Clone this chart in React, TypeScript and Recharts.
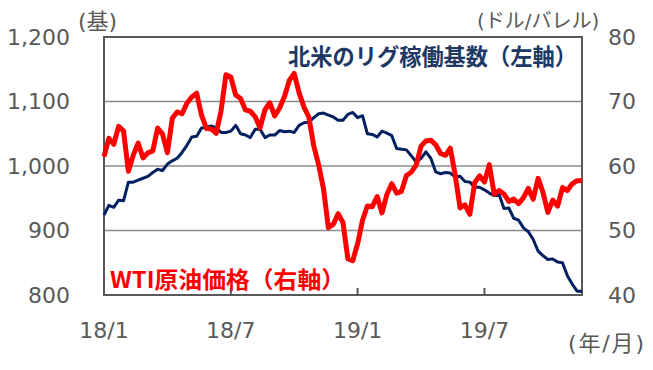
import { LineChart, Line, XAxis, YAxis, CartesianGrid, ReferenceArea } from "recharts";

// weekly, 2018/1 first week -> 2019/11 (Friday values)
const rigCount = [
  924, 939, 936, 947, 946, 975, 975, 978, 981, 984, 990, 995, 993, 1003, 1008, 1012, 1021, 1032,
  1045, 1046, 1059, 1060, 1062, 1059, 1052, 1052, 1054, 1063, 1050, 1048, 1044, 1057, 1057, 1044,
  1048, 1048, 1055, 1053, 1054, 1052, 1063, 1067, 1068, 1075, 1081, 1082, 1079, 1076, 1071, 1071,
  1080, 1083,
  1075, 1078, 1050, 1049, 1045, 1054, 1051, 1047, 1027, 1026, 1025, 1016, 1006, 1012, 1022, 1012,
  991, 988, 990, 989, 983, 984, 976, 975, 967, 967, 963, 958, 954, 956, 934, 935, 919, 916, 904,
  898, 886, 868, 861, 855, 856, 851, 850, 830, 817, 806, 806,
];

const wtiPrice = [
  61.44, 64.3, 63.37, 66.14, 65.45, 59.2, 61.68, 63.55, 61.25, 62.04, 62.34, 65.88, 64.94, 62.06,
  67.39, 68.38, 68.1, 69.72, 70.7, 71.28, 67.88, 65.81, 65.74, 65.06, 68.58, 74.15, 73.8, 71.01,
  70.46, 68.69, 68.49, 67.63, 65.91, 68.72, 69.8, 67.75, 68.99, 70.78, 73.25, 74.34, 71.34, 69.12,
  67.59, 63.14, 60.19, 56.46, 50.42, 50.93, 52.61, 51.2, 45.59, 45.33,
  47.96, 51.59, 53.8, 53.69, 55.26, 52.72, 55.59, 57.26, 55.8, 56.07, 58.52, 59.04, 60.14, 63.08,
  63.89, 64.0, 63.3, 61.94, 61.66, 62.76, 58.63, 53.5, 53.99, 52.51, 57.43, 58.47, 57.51, 60.21,
  55.63, 56.2, 55.66, 54.5, 54.87, 54.17, 55.1, 56.52, 54.85, 58.09, 55.91, 52.81, 54.7, 53.78,
  56.66, 56.2, 57.24, 57.72, 57.77,
];

const xTickWeeks = [0, 26, 52, 78];
const xTickLabels = ["18/1", "18/7", "19/1", "19/7"];
const leftTicks = [800, 900, 1000, 1100, 1200];
const rightTicks = [40, 50, 60, 70, 80];

const data = rigCount.map((rig, i) => ({ week: i, rig, wti: wtiPrice[i] }));

const GRAY = "#595959";
const NAVY = "#002060";
const NAVY_TEXT = "#203864";
const RED = "#ff0000";
const FONT = "'DejaVu Sans', 'Noto Sans CJK JP', sans-serif";
const JP = "'Noto Sans CJK JP', sans-serif";

const XTick = (props: any) => {
  const { x, y, payload } = props;
  const label = xTickLabels[xTickWeeks.indexOf(payload.value)];
  return (
    <g>
      <line x1={x} x2={x} y1={y} y2={y - 7} stroke={GRAY} strokeWidth={2} />
      <text x={x} y={y + 35} textAnchor="middle" dominantBaseline="central" fill={GRAY} fontSize={22} fontFamily={FONT}>
        {label}
      </text>
    </g>
  );
};

export default function App() {
  return (
    <div style={{ position: "absolute", left: 0, top: 0, width: 653, height: 370, background: "#fff" }}>
      <LineChart width={653} height={370} data={data} margin={{ top: 37, right: 0, bottom: 0, left: 0 }}>
        <CartesianGrid yAxisId="left" horizontal vertical={false} stroke="#8c8c8c" strokeWidth={1.5} />
        <XAxis
          dataKey="week"
          type="number"
          domain={[0, rigCount.length - 1]}
          ticks={xTickWeeks}
          height={75}
          axisLine={false}
          tickLine={false}
          tickSize={0}
          tickMargin={0}
          tick={<XTick />}
          interval={0}
        />
        <YAxis
          yAxisId="left"
          orientation="left"
          width={104}
          domain={[800, 1200]}
          ticks={leftTicks}
          axisLine={false}
          tickLine={false}
          tickSize={0}
          tickMargin={34}
          tick={{ fill: GRAY, fontSize: 22, fontFamily: FONT }}
          tickFormatter={(v) => v.toLocaleString("en-US")}
        />
        <YAxis
          yAxisId="right"
          orientation="right"
          width={71}
          domain={[40, 80]}
          ticks={rightTicks}
          axisLine={false}
          tickLine={false}
          tickSize={0}
          tickMargin={26}
          tick={{ fill: GRAY, fontSize: 22, fontFamily: FONT, textAnchor: "start" }}
        />
        <ReferenceArea
          yAxisId="left"
          x1={0}
          x2={rigCount.length - 1}
          y1={800}
          y2={1200}
          fill="none"
          stroke={GRAY}
          strokeWidth={2}
          ifOverflow="visible"
        />
        <Line
          yAxisId="left"
          dataKey="rig"
          stroke={NAVY}
          strokeWidth={3}
          dot={false}
          strokeLinejoin="round"
          isAnimationActive={false}
        />
        <Line
          yAxisId="right"
          dataKey="wti"
          stroke={RED}
          strokeWidth={5}
          dot={false}
          strokeLinejoin="round"
          isAnimationActive={false}
        />
      </LineChart>
      <svg width={653} height={370} style={{ position: "absolute", left: 0, top: 0, pointerEvents: "none" }}>
        <text x={78} y={21} dominantBaseline="central" fill={GRAY} fontSize={22} fontFamily={FONT}>(基)</text>
        <text x={477} y={21} dominantBaseline="central" fill={GRAY} fontSize={20} fontFamily={FONT}>(ドル/バレル)</text>
        <text x={568} y={343} dominantBaseline="central" fill={GRAY} fontSize={22} fontFamily={FONT} textLength={76} lengthAdjust="spacing">
          (年/月)
        </text>
        <text x={288} y={55} dominantBaseline="central" fill={NAVY_TEXT} fontSize={23} fontWeight={700} fontFamily={JP} textLength={289} lengthAdjust="spacingAndGlyphs">
          北米のリグ稼働基数（左軸）
        </text>
        <text x={110} y={278} dominantBaseline="central" fill={RED} fontSize={23} fontWeight={700} fontFamily={JP} textLength={235} lengthAdjust="spacingAndGlyphs">
          WTI原油価格（右軸）
        </text>
      </svg>
    </div>
  );
}
